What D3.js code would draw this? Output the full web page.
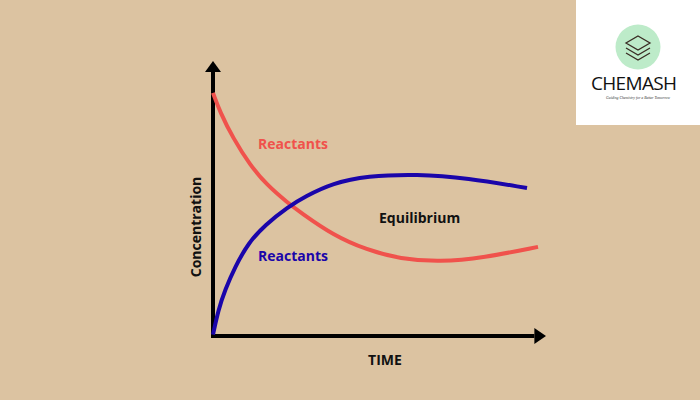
<!DOCTYPE html>
<html><head><meta charset="utf-8">
<script src="https://cdn.jsdelivr.net/npm/d3@7"></script>
<style>html,body{margin:0;padding:0;background:#dcc3a1;}svg{display:block;}</style>
</head><body>
<svg id="c" width="700" height="400"></svg>
<script>
// Data (time 0-100, concentration 0-100)
const reactantTime = [0, 2.1, 6.0, 11.1, 16.2, 22.5, 26.1, 36.0, 46.2, 56.2, 68.2, 81.1, 97.6];
const reactantConc = [88.4, 81.5, 72.0, 62.2, 54.9, 48.4, 45.1, 36.7, 31.3, 28.0, 26.9, 28.4, 32.4];
const productTime = [0, 1.6, 3.6, 6.6, 10.6, 15.6, 22.6, 27.6, 36.0, 46.2, 61.3, 76.3, 94.3];
const productConc = [0.5, 9.5, 16.7, 25.1, 33.8, 40.4, 47.0, 50.7, 55.6, 58.2, 58.9, 57.5, 53.8];
const labels = ["Reactants", "Reactants", "Equilibrium"];
const axisTitles = ["Concentration", "TIME"];

const svg = d3.select("#c");
const x = d3.scaleLinear().domain([0, 100]).range([213, 546]);
const y = d3.scaleLinear().domain([0, 100]).range([336, 61]);

// axes
svg.append("line").attr("x1", x(0)).attr("x2", x(0)).attr("y1", y(0) + 2).attr("y2", y(96))
  .attr("stroke", "#000").attr("stroke-width", 4);
svg.append("path").attr("d", `M${x(0)},${y(100)} L${x(0)+8},${y(96)} L${x(0)-8},${y(96)} Z`).attr("fill", "#000");
svg.append("line").attr("x1", x(0) - 2).attr("x2", x(96.5)).attr("y1", y(0)).attr("y2", y(0))
  .attr("stroke", "#000").attr("stroke-width", 4);
svg.append("path").attr("d", `M${x(100)},${y(0)} L${x(96.5)},${y(0)-8} L${x(96.5)},${y(0)+8} Z`).attr("fill", "#000");

const line = d3.line().x(d => x(d[0])).y(d => y(d[1])).curve(d3.curveBasis);
svg.append("path").datum(reactantTime.map((t, i) => [t, reactantConc[i]]))
  .attr("d", line).attr("fill", "none").attr("stroke", "#f0524c").attr("stroke-width", 4);
svg.append("path").datum(productTime.map((t, i) => [t, productConc[i]]))
  .attr("d", line).attr("fill", "none").attr("stroke", "#1a05aa").attr("stroke-width", 4);

const font = "'Open Sans', sans-serif";
svg.append("text").attr("x", 258).attr("y", 149).text(labels[0])
  .attr("font-family", font).attr("font-weight", 700).attr("font-size", 14).attr("fill", "#f0524c");
svg.append("text").attr("x", 258).attr("y", 261).text(labels[1])
  .attr("font-family", font).attr("font-weight", 700).attr("font-size", 14).attr("fill", "#1a05aa");
svg.append("text").attr("x", 379).attr("y", 223).text(labels[2])
  .attr("font-family", font).attr("font-weight", 700).attr("font-size", 14).attr("fill", "#111");
svg.append("text").attr("transform", "translate(201,227) rotate(-90)").attr("text-anchor", "middle")
  .text(axisTitles[0]).attr("font-family", font).attr("font-weight", 700).attr("font-size", 14).attr("fill", "#111");
svg.append("text").attr("x", 385).attr("y", 365).attr("text-anchor", "middle").text(axisTitles[1])
  .attr("font-family", font).attr("font-weight", 700).attr("font-size", 14).attr("fill", "#111");

// logo
const g = svg.append("g");
g.append("rect").attr("x", 576).attr("y", 0).attr("width", 124).attr("height", 125).attr("fill", "#fff");
g.append("circle").attr("cx", 638).attr("cy", 47).attr("r", 22.5).attr("fill", "#bdebc9");
const lc = "#3a2c24";
g.append("path").attr("d", "M638,36 L650,43 L638,50 L626,43 Z").attr("fill", "none").attr("stroke", lc).attr("stroke-width", 1.3);
g.append("path").attr("d", "M626,48 L638,55 L650,48").attr("fill", "none").attr("stroke", lc).attr("stroke-width", 1.3);
g.append("path").attr("d", "M626,53 L638,60 L650,53").attr("fill", "none").attr("stroke", lc).attr("stroke-width", 1.3);
g.append("text").attr("x", 634).attr("y", 90).attr("text-anchor", "middle").text("CHEMASH")
  .attr("font-family", "'Open Sans', sans-serif").attr("font-size", 19).attr("fill", "#111").attr("textLength", 86);
g.append("text").attr("x", 638).attr("y", 99).attr("text-anchor", "middle").text("Guiding Chemistry for a Better Tomorrow")
  .attr("font-family", "serif").attr("font-style", "italic").attr("font-size", 3.8).attr("fill", "#333");
</script>
</body></html>
